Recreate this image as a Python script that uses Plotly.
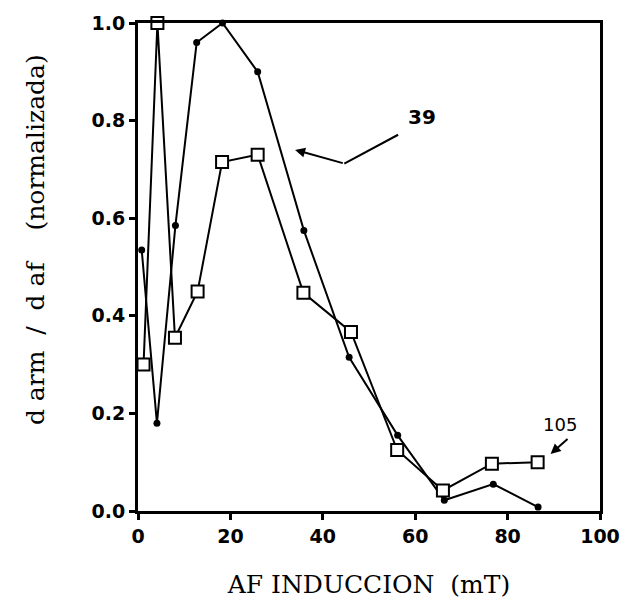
import plotly.graph_objects as go

# Series "39" (filled circles)
x39 = [0.8, 4.1, 8.1, 12.7, 18.3, 25.9, 35.9, 45.7, 56.2, 66.3, 76.9, 86.6]
y39 = [0.535, 0.18, 0.585, 0.96, 1.0, 0.90, 0.575, 0.315, 0.155, 0.022, 0.055, 0.008]

# Series "105" (open squares)
x105 = [1.2, 4.2, 8.0, 12.9, 18.2, 25.9, 35.8, 46.1, 56.1, 66.0, 76.6, 86.5]
y105 = [0.30, 1.0, 0.355, 0.45, 0.715, 0.73, 0.447, 0.367, 0.125, 0.042, 0.097, 0.10]

xticks = [0, 20, 40, 60, 80, 100]
yticks = [0.0, 0.2, 0.4, 0.6, 0.8, 1.0]

NB = "\u00a0"

fig = go.Figure()
fig.add_trace(go.Scatter(
    x=x39, y=y39, mode="lines+markers",
    line=dict(color="black", width=2),
    marker=dict(symbol="circle", size=7, color="black"),
    showlegend=False, cliponaxis=False))
fig.add_trace(go.Scatter(
    x=x105, y=y105, mode="lines+markers",
    line=dict(color="black", width=2),
    marker=dict(symbol="square", size=12, color="white",
                line=dict(color="black", width=2)),
    showlegend=False, cliponaxis=False))

tickfont = dict(family="DejaVu Sans", size=19, color="black", weight="bold")
titlefont = dict(family="DejaVu Serif", size=25, color="#000000")

fig.update_xaxes(range=[0, 100], tickvals=xticks, ticktext=[str(v) for v in xticks],
                 showgrid=False, zeroline=False, showline=True, mirror=True,
                 linecolor="black", linewidth=3, ticks="outside", ticklen=6,
                 tickwidth=3, tickcolor="black", tickfont=tickfont,
                 title=dict(text=f"AF{NB}INDUCCION{NB}{NB}(mT)", font=titlefont, standoff=30))
fig.update_yaxes(range=[0, 1.0], tickvals=yticks, ticktext=[f"{v:.1f}" for v in yticks],
                 showgrid=False, zeroline=False, showline=True, mirror=True,
                 linecolor="black", linewidth=3, ticks="outside", ticklen=6,
                 tickwidth=3, tickcolor="black", tickfont=tickfont)

# y-axis title placed as rotated annotation (shifted above centre as in reference)
fig.add_annotation(xref="paper", yref="paper", x=-0.222, y=0.556,
                   text=f"d{NB}arm{NB}{NB}/{NB}{NB}d{NB}af{NB}{NB}{NB}{NB}(normalizada)",
                   textangle=-90, showarrow=False, font=titlefont,
                   xanchor="center", yanchor="middle")

# annotation labels
fig.add_annotation(x=61.5, y=0.808, text="<b>39</b>", showarrow=False,
                   font=dict(family="DejaVu Sans", size=20, color="black"))
fig.add_shape(type="line", x0=56.3, y0=0.771, x1=44.65, y1=0.712,
              line=dict(color="black", width=2))
fig.add_annotation(x=34.0, y=0.740, ax=44.65, ay=0.712, axref="x", ayref="y",
                   showarrow=True, arrowhead=2, arrowsize=1, arrowwidth=2,
                   arrowcolor="black", text="")
fig.add_annotation(x=91.3, y=0.178, text="105", showarrow=False,
                   font=dict(family="DejaVu Sans", size=18, color="black"))
fig.add_annotation(x=89.3, y=0.117, ax=93.3, ay=0.150, axref="x", ayref="y",
                   showarrow=True, arrowhead=2, arrowsize=1, arrowwidth=2,
                   arrowcolor="black", text="")

fig.update_layout(width=633, height=606, paper_bgcolor="white", plot_bgcolor="white",
                  margin=dict(l=138, r=33, t=20, b=90))

fig.write_html("out.html")
